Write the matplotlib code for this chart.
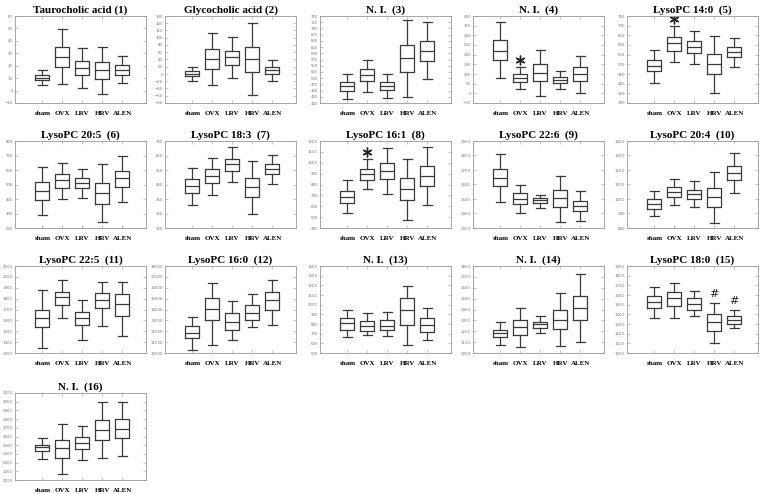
import numpy as np
import matplotlib.pyplot as plt

groups = ["sham", "OVX", "LRV", "HRV", "ALEN"]

titles = ["Taurocholic acid (1)", "Glycocholic acid (2)", "N. I.  (3)", "N. I.  (4)",
          "LysoPC 14:0  (5)", "LysoPC 20:5  (6)", "LysoPC 18:3  (7)", "LysoPC 16:1  (8)",
          "LysoPC 22:6  (9)", "LysoPC 20:4  (10)", "LysoPC 22:5  (11)", "LysoPC 16:0  (12)",
          "N. I.  (13)", "N. I.  (14)", "LysoPC 18:0  (15)", "N. I.  (16)"]

# y axis range and tick step for every panel
y_lims = [(-10, 60), (-80, 160), (400, 750), (-50, 400), (300, 750), (200, 800),
          (150, 750), (400, 1200), (1300, 1900), (800, 1400), (1300, 2100),
          (10000, 18000), (500, 1400), (1000, 1800), (1000, 1900), (2100, 3100)]
y_steps = [10, 20, 25, 50, 50, 100, 100, 100, 100, 100, 100, 1000, 100, 100, 100, 100]

# per group: [lower whisker, Q1, median, Q3, upper whisker]
p1 = [[4.4, 8.4, 10.5, 12.4, 16.4], [5.2, 18.6, 26.8, 35.4, 49.3], [1.7, 12.4, 18.3, 23.6, 34.6],
      [-2.8, 9.5, 16.4, 22.8, 35.4], [6, 12.9, 16.4, 20.4, 27.6]]
p2 = [[-18.6, -5.8, 0.7, 8, 19], [-30.5, 14.4, 41.9, 68.4, 113], [-11.2, 25.4, 47.4, 64.8, 101],
      [-58, 5.2, 41, 75.8, 140], [-18.6, 0.7, 10.7, 19, 38.2]]
p3 = [[415, 448, 468, 486, 516], [446, 487, 512, 536, 575], [419, 452, 468, 484, 516],
      [426, 524, 580, 634, 734], [495, 568, 608, 650, 725]]
p4 = [[77, 171, 221, 275, 367], [24, 58, 79, 99, 135], [-14, 63, 106, 151, 226],
      [22, 51, 70, 84, 117], [1, 63, 101, 134, 194]]
p5 = [[406, 463, 491, 520, 573], [513, 570, 609, 642, 700], [501, 558, 588, 619, 674],
      [353, 449, 501, 552, 649], [485, 537, 563, 590, 638]]
p6 = [[292, 395, 454, 514, 624], [397, 475, 528, 571, 651], [406, 475, 511, 544, 610],
      [239, 367, 440, 509, 644], [376, 482, 544, 596, 699]]
p7 = [[308, 390, 439, 487, 567], [377, 459, 507, 555, 633], [466, 542, 590, 629, 709],
      [246, 365, 432, 496, 610], [452, 519, 558, 590, 652]]
p8 = [[534, 626, 687, 739, 840], [757, 843, 898, 947, 1038], [711, 849, 925, 1002, 1139],
      [476, 656, 757, 858, 1038], [614, 782, 876, 974, 1148]]
p9 = [[1479, 1589, 1648, 1708, 1808], [1405, 1465, 1502, 1538, 1595], [1440, 1474, 1492, 1504, 1529],
      [1341, 1444, 1506, 1561, 1662], [1348, 1415, 1453, 1488, 1554]]
p10 = [[880, 933, 965, 999, 1052], [960, 1015, 1050, 1082, 1137], [942, 1002, 1034, 1063, 1121],
       [832, 947, 1011, 1073, 1185], [1040, 1130, 1178, 1226, 1318]]
p11 = [[1346, 1539, 1622, 1695, 1879], [1622, 1741, 1815, 1861, 1971], [1420, 1557, 1622, 1677, 1787],
       [1548, 1714, 1787, 1852, 1953], [1456, 1640, 1751, 1843, 1953]]
p12 = [[10276, 11379, 11839, 12483, 13310], [10736, 13034, 14046, 15057, 16437],
       [11195, 12115, 12851, 13678, 14781], [12391, 13034, 13678, 14414, 15425],
       [12575, 13954, 14874, 15609, 16712]]
p13 = [[666, 738, 810, 862, 945], [686, 728, 779, 831, 914], [676, 738, 779, 841, 924],
       [583, 790, 945, 1069, 1193], [634, 717, 790, 862, 966]]
p14 = [[1073, 1147, 1180, 1214, 1284], [1055, 1168, 1238, 1302, 1415], [1186, 1232, 1263, 1284, 1342],
       [1064, 1220, 1305, 1391, 1553], [1104, 1302, 1415, 1522, 1727]]
p15 = [[1362, 1466, 1528, 1590, 1683], [1362, 1486, 1569, 1631, 1724], [1383, 1445, 1507, 1569, 1641],
       [1103, 1228, 1321, 1403, 1517], [1259, 1300, 1341, 1383, 1445]]
p16 = [[2342, 2428, 2474, 2508, 2579], [2168, 2357, 2466, 2564, 2742], [2330, 2458, 2530, 2594, 2723],
       [2353, 2557, 2670, 2787, 2994], [2372, 2579, 2689, 2798, 3002]]
panels = [p1, p2, p3, p4, p5, p6, p7, p8, p9, p10, p11, p12, p13, p14, p15, p16]

# significance marks: panel index -> list of (group index, symbol)
marks = {3: [(1, "*")], 4: [(1, "*")], 7: [(1, "*")], 14: [(3, "#"), (4, "#")]}

W, H = 766, 494
fig = plt.figure(figsize=(W / 100, H / 100), dpi=100)

col_x = [15, 165, 320, 473, 627]
row_y = [16, 141, 266, 393]
aw, ah = 131, 87
line_c = "#3a3a3a"

for k, stats in enumerate(panels):
    r, c = divmod(k, 5)
    ax = fig.add_axes([col_x[c] / W, 1 - (row_y[r] + ah) / H, aw / W, ah / H])
    bx = [dict(whislo=s[0], q1=s[1], med=s[2], q3=s[3], whishi=s[4], fliers=[], label=g)
          for s, g in zip(stats, groups)]
    lp = dict(color=line_c, linewidth=0.9)
    ax.bxp(bx, positions=range(5), widths=0.72, capwidths=0.45, showfliers=False,
           boxprops=lp, whiskerprops=lp, capprops=lp, medianprops=lp)
    lo, hi = y_lims[k]
    ax.set_ylim(lo, hi)
    ax.set_xlim(-1.37, 5.2)
    ax.set_yticks(np.arange(lo, hi + 0.001, y_steps[k]))
    ax.tick_params(axis="y", labelsize=2.8, labelcolor="#777777", direction="in",
                   length=2, width=0.4, color="#999999", right=True, pad=1.5)
    ax.tick_params(axis="x", direction="in", length=2, width=0.4, color="#999999",
                   top=True, pad=6)
    ax.set_xticks(range(5))
    ax.set_xticklabels(groups, fontsize=5, fontweight="bold", family="Liberation Serif")
    for sp in ax.spines.values():
        sp.set_color("#999999")
        sp.set_linewidth(0.6)
    ax.set_title(titles[k], fontsize=8, fontweight="bold", family="Liberation Serif", pad=2)
    for gi, sym in marks.get(k, []):
        if sym == "*":
            yy = stats[gi][4] + 0.08 * (hi - lo)
            ax.plot(gi, yy, marker=(6, 2, 0), markersize=7, mew=1.0, color="#222222")
        else:
            yy = stats[gi][4] + 0.1 * (hi - lo)
            ax.text(gi, yy, sym, ha="center", va="center", fontsize=8, color="#222222")

fig.savefig("out.png", dpi=100)
